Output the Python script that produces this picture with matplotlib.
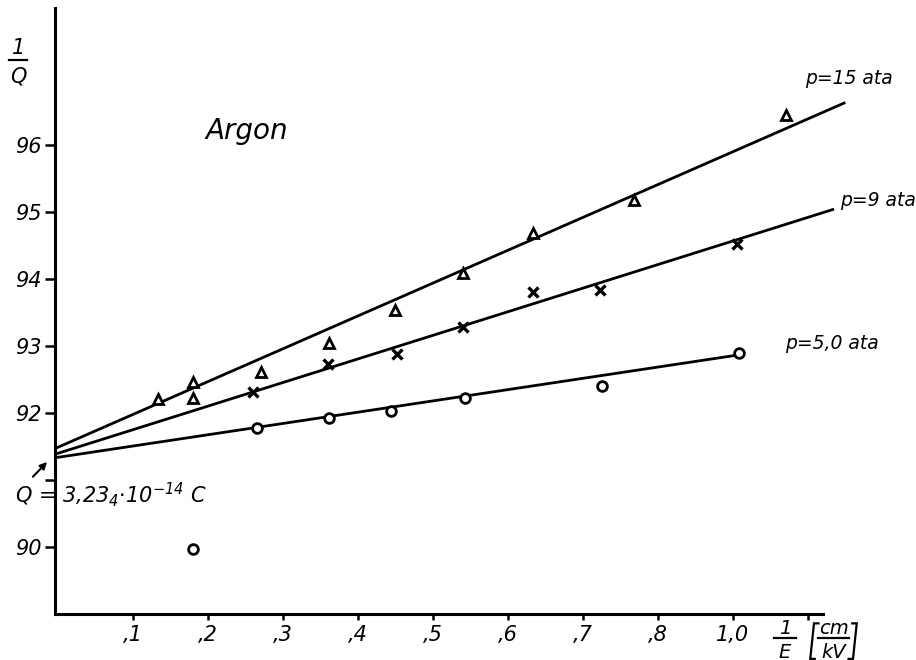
import matplotlib
matplotlib.use("Agg")
import numpy as np
import matplotlib.pyplot as plt

plt.rcParams['font.family'] = ['DejaVu Sans']
plt.rcParams['font.style'] = 'italic'
plt.rcParams['mathtext.fontset'] = 'dejavusans'
plt.rcParams['mathtext.default'] = 'it'

# p = 15 ata (triangles)
x15 = [0.133, 0.18, 0.18, 0.271, 0.361, 0.449, 0.54, 0.633, 0.768, 0.97]
y15 = [92.21, 92.46, 92.22, 92.61, 93.04, 93.54, 94.09, 94.69, 95.18, 96.45]
line15_x = [0.0, 1.048]
line15_y = [91.49, 96.63]

# p = 9 ata (crosses)
x9 = [0.26, 0.36, 0.452, 0.54, 0.633, 0.723, 0.905]
y9 = [92.31, 92.73, 92.88, 93.28, 93.81, 93.84, 94.52]
line9_x = [0.0, 1.033]
line9_y = [91.40, 95.04]

# p = 5,0 ata (circles)
x5 = [0.18, 0.265, 0.361, 0.444, 0.543, 0.725, 0.908]
y5 = [89.97, 91.78, 91.93, 92.03, 92.22, 92.40, 92.90]
line5_x = [0.0, 0.908]
line5_y = [91.34, 92.87]

xticks = [0.1, 0.2, 0.3, 0.4, 0.5, 0.6, 0.7, 0.8, 0.9, 1.0]
xticklabels = [",1", ",2", ",3", ",4", ",5", ",6", ",7", ",8", "1,0", ""]
yticks = [90, 91, 92, 93, 94, 95, 96]
yticklabels = ["90", "", "92", "93", "94", "95", "96"]


def frac(ax, x, y_num, y_bar, y_den, half_w, num, den, size):
    # hand-drawn style fraction: numerator, bar, denominator
    ax.text(x, y_num, num, fontsize=size, ha="center", va="center",
            clip_on=False)
    ax.plot([x - half_w, x + half_w], [y_bar, y_bar], color="black",
            lw=1.6, clip_on=False)
    ax.text(x, y_den, den, fontsize=size, ha="center", va="center",
            clip_on=False)


def bracket(ax, x_top, x_bot, y_top, y_bot, hook):
    ax.plot([x_top + hook, x_top, x_bot, x_bot + hook],
            [y_top, y_top, y_bot, y_bot], color="black", lw=1.6,
            clip_on=False, solid_joinstyle="miter")


fig = plt.figure(figsize=(9.16, 6.6), dpi=100)
ax = fig.add_axes([55 / 916, 46 / 660, 798 / 916, 606 / 660])

lw = 2.0
ax.plot(line15_x, line15_y, color="black", lw=lw, clip_on=False)
ax.plot(line9_x, line9_y, color="black", lw=lw, clip_on=False)
ax.plot(line5_x, line5_y, color="black", lw=lw, clip_on=False)

ax.plot(x15, y15, linestyle="none", marker="^", ms=7, mew=2,
        mfc="white", mec="black", clip_on=False)
ax.plot(x9, y9, linestyle="none", marker="x", ms=7, mew=2.4,
        color="black", clip_on=False)
ax.plot(x5, y5, linestyle="none", marker="o", ms=7, mew=2,
        mfc="white", mec="black", clip_on=False)

ax.set_xlim(-0.004, 1.06)
ax.set_ylim(89, 98.05)

for s in ["top", "right"]:
    ax.spines[s].set_visible(False)
ax.spines["left"].set_linewidth(2.2)
ax.spines["bottom"].set_linewidth(2.2)
ax.spines["bottom"].set_bounds(-0.004, 1.02)

ax.set_xticks(xticks)
ax.set_xticklabels(xticklabels)
ax.set_yticks(yticks)
ax.set_yticklabels(yticklabels)
ax.tick_params(axis="y", direction="out", length=7, width=1.8,
               labelsize=15, pad=3)
ax.tick_params(axis="x", direction="out", length=4, width=1.8,
               labelsize=15, pad=4)

ax.text(0.196, 96.22, "Argon", fontsize=20, va="center", ha="left")
ax.text(0.996, 97.0, "p=15 ata", fontsize=13.5, va="center", ha="left")
ax.text(1.043, 95.18, "p=9 ata", fontsize=13.5, va="center", ha="left",
        clip_on=False)
ax.text(0.969, 93.04, "p=5,0 ata", fontsize=13.5, va="center", ha="left")

# y-axis label 1/Q
frac(ax, -0.053, 97.46, 97.27, 97.03, 0.012, "1", "Q", 15)

ax.annotate("", xy=(-0.012, 91.3), xytext=(-0.036, 91.02),
            arrowprops=dict(arrowstyle="-|>", color="black", lw=1.5,
                            mutation_scale=10),
            annotation_clip=False)
ax.text(-0.057, 90.66, r"Q = 3,23$_4$$\cdot$10$^{-14}$ C", fontsize=15,
        va="baseline", ha="left", clip_on=False)

# x-axis label 1/E [cm/kV]
frac(ax, 0.969, 88.78, 88.64, 88.43, 0.015, "1", "E", 14)
frac(ax, 1.034, 88.78, 88.64, 88.43, 0.021, "cm", "kV", 14)
bracket(ax, 1.008, 1.003, 88.86, 88.33, 0.006)
bracket(ax, 1.065, 1.060, 88.86, 88.33, -0.006)

fig.savefig("out.png", dpi=100)
